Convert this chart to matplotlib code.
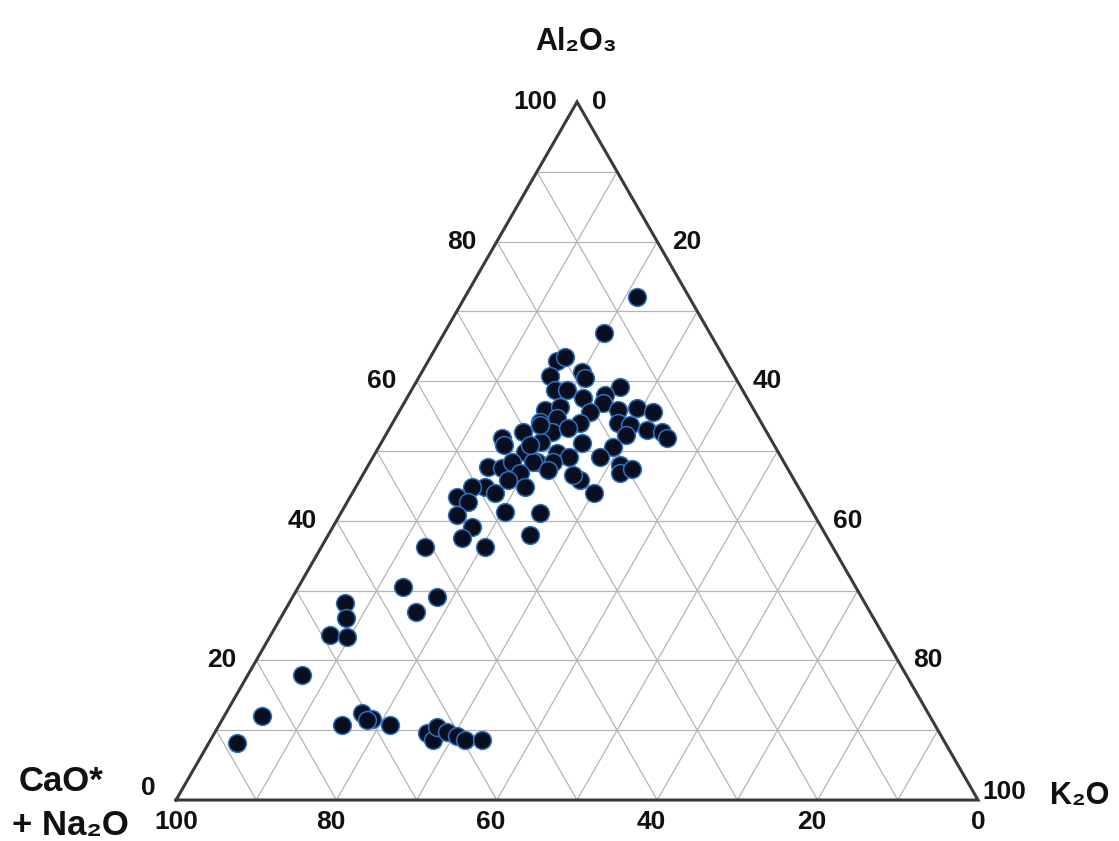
import numpy as np
import matplotlib.pyplot as plt

# Composition values (wt. %)
al2o3 = [72.1, 66.9, 62.9, 63.5, 60.7, 61.3, 60.5, 59.2, 58.7, 58.7,
         57.6, 58.0, 56.9, 55.9, 56.3, 55.6, 55.9, 56.2, 55.6, 54.2,
         54.7, 54.0, 54.0, 53.7, 52.7, 53.3, 52.3, 53.0, 52.7, 51.9,
         51.3, 51.1, 50.6, 49.7, 49.1, 49.1, 48.0, 46.8, 47.4, 45.8,
         44.0, 48.4, 51.9, 52.7, 53.7, 50.9, 49.9, 48.4, 47.7, 47.6,
         48.4, 48.4, 46.8, 45.8, 44.8, 44.8, 44.8, 44.0, 43.4, 42.7,
         40.8, 41.3, 41.1, 39.1, 37.5, 38.0, 36.2, 46.6, 50.9, 47.3,
         36.2, 30.5, 29.1, 26.9, 28.2, 26.1, 23.6, 23.4, 17.9, 12.0,
         8.2, 10.7, 12.5, 11.6, 11.5, 10.7, 9.6, 8.6, 10.5, 9.7,
         9.2, 8.6, 8.6]
k2o = [21.4, 19.9, 16.1, 16.8, 16.3, 20.0, 20.8, 25.8, 17.9, 19.4,
       21.9, 24.5, 24.8, 18.1, 19.7, 23.8, 27.2, 29.4, 31.7, 18.3,
       20.1, 23.4, 28.1, 29.7, 20.5, 22.2, 29.9, 32.2, 34.3, 35.3,
       19.8, 25.1, 29.2, 22.6, 24.5, 28.3, 31.4, 32.0, 33.2, 27.5,
       30.1, 20.8, 14.7, 16.9, 18.5, 15.4, 18.6, 22.8, 15.0, 16.8,
       17.7, 20.3, 19.5, 18.5, 21.1, 16.1, 14.5, 17.8, 13.3, 15.0,
       14.6, 20.4, 24.8, 17.3, 16.9, 25.1, 20.4, 26.2, 18.7, 22.7,
       12.9, 13.0, 18.0, 16.5, 7.0, 8.1, 7.4, 9.6, 6.8, 4.7,
       3.5, 15.4, 17.0, 18.6, 18.0, 21.3, 26.5, 27.7, 27.3, 28.9,
       30.4, 31.7, 33.9]
ticks = [0, 20, 40, 60, 80, 100]

a = np.array(al2o3)
k = np.array(k2o)


def to_xy(a_val, k_val):
    return k_val + a_val / 2.0, a_val


fig = plt.figure(figsize=(11.19, 8.41), dpi=100)
ax = fig.add_axes([0, 0, 1, 1])
ax.set_xlim(-21.95, 117.58)
ax.set_ylim(-5.87, 114.6)
ax.axis('off')

# grid lines every 10 %
for v in range(10, 100, 10):
    # constant Al2O3
    x0, y0 = to_xy(v, 0)
    x1, y1 = to_xy(v, 100 - v)
    ax.plot([x0, x1], [y0, y1], color='#b4b4b4', lw=0.9, zorder=1)
    # constant K2O
    x0, y0 = to_xy(0, v)
    x1, y1 = to_xy(100 - v, v)
    ax.plot([x0, x1], [y0, y1], color='#b4b4b4', lw=0.9, zorder=1)
    # constant CaO* + Na2O
    x0, y0 = to_xy(0, 100 - v)
    x1, y1 = to_xy(100 - v, 0)
    ax.plot([x0, x1], [y0, y1], color='#b4b4b4', lw=0.9, zorder=1)

# outline
ax.plot([0, 100, 50, 0], [0, 0, 100, 0], color='#3a3a3a', lw=2.2, zorder=2,
        solid_joinstyle='miter')

x, y = to_xy(a, k)
ax.scatter(x, y, s=165, facecolor='#0a0f1f', edgecolor='#2f72c0',
           linewidth=1.1, zorder=3)

fam = ['Liberation Sans', 'DejaVu Sans']
tick_kw = dict(fontsize=19, fontweight='bold', family=fam, color='#111111')

for t in ticks:
    # Al2O3 labels on the left edge
    ex, ey = to_xy(t, 0)
    ax.text(ex - 2.5, ey + (1.7 if t == 0 else 0), str(t), ha='right',
            va='center', **tick_kw)
    # K2O labels on the right edge
    ex, ey = to_xy(100 - t, t)
    if t == 100:
        ax.text(ex + 0.6, ey + 1.1, str(t), ha='left', va='center', **tick_kw)
    else:
        ax.text(ex + 1.9, ey, str(t), ha='left', va='center', **tick_kw)
    # CaO* + Na2O labels on the base
    ex, ey = to_xy(0, 100 - t)
    ax.text(ex - (0 if t in (0, 100) else 0.75), -3.15, str(t), ha='center',
            va='center', **tick_kw)

lab_kw = dict(fontsize=22, fontweight='bold', family=fam, color='#111111')
ax.text(49.9, 108.6, 'Al₂O₃', ha='center', va='center', **lab_kw)
ax.text(116.4, 0.6, 'K₂O', ha='right', va='center', **lab_kw)
ax.text(-14.3, 2.7, 'CaO*', ha='center', va='center',
        **dict(lab_kw, fontsize=25))
ax.text(-13.2, -3.6, '+ Na₂O', ha='center', va='center',
        **dict(lab_kw, fontsize=25))

fig.savefig('out.png', dpi=100, facecolor='white')
